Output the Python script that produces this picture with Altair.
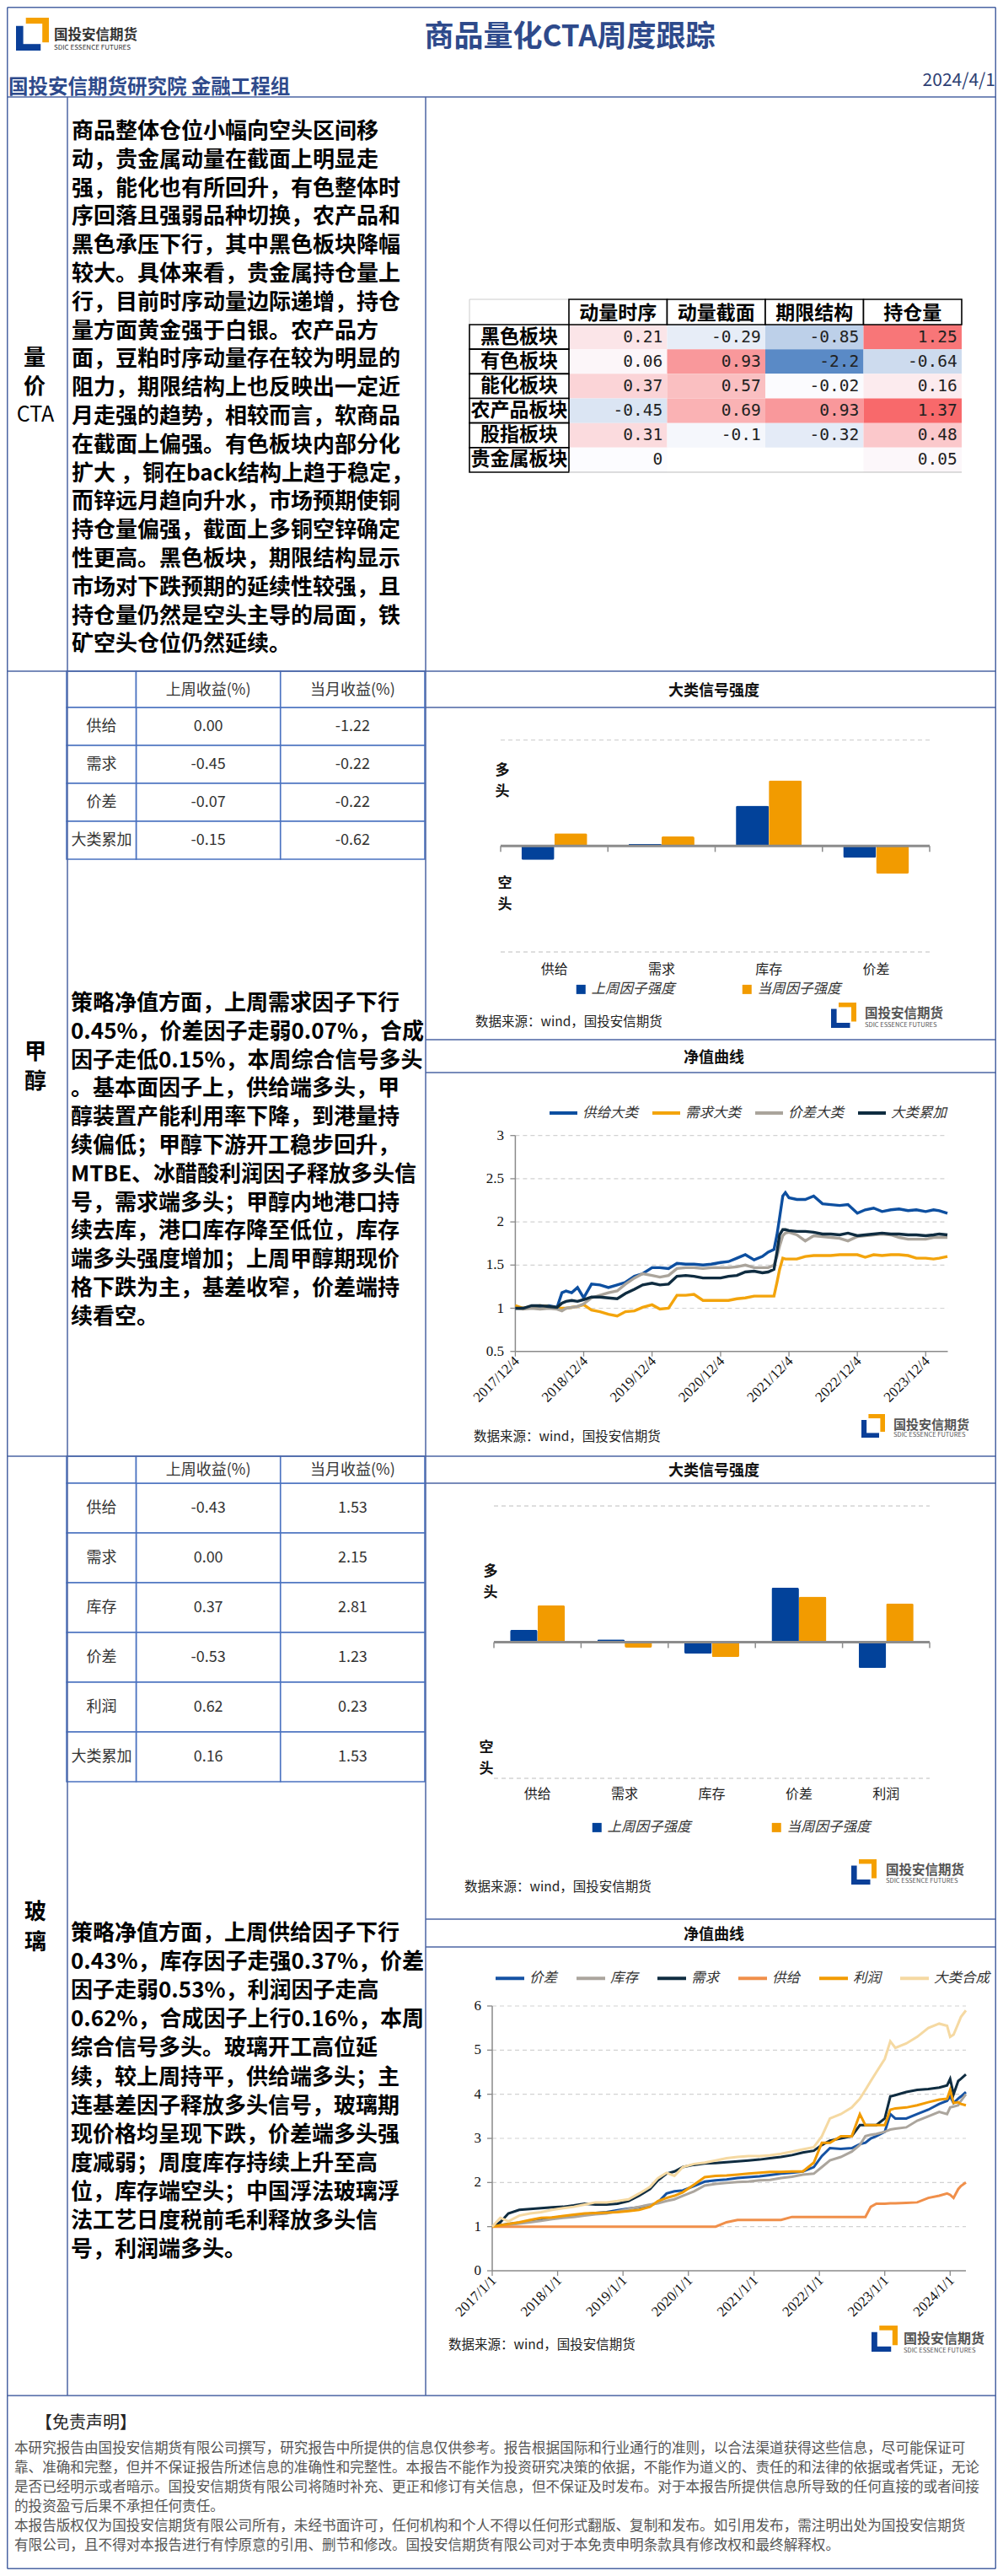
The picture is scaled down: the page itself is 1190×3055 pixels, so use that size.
import altair as alt
import pandas as pd

# ======================= DATA =======================
CTA_SECTORS = ["黑色板块", "有色板块", "能化板块", "农产品板块", "股指板块", "贵金属板块"]
CTA_FACTORS = ["动量时序", "动量截面", "期限结构", "持仓量"]
CTA_MOM_TS = [0.21, 0.06, 0.37, -0.45, 0.31, 0]
CTA_MOM_CS = [-0.29, 0.93, 0.57, 0.69, -0.1, None]
CTA_TERM = [-0.85, -2.2, -0.02, 0.93, -0.32, None]
CTA_OI = [1.25, -0.64, 0.16, 1.37, 0.48, 0.05]

RET_COLS = ["上周收益(%)", "当月收益(%)"]
METH_ROWS = ["供给", "需求", "价差", "大类累加"]
METH_WEEK = [0.00, -0.45, -0.07, -0.15]
METH_MONTH = [-1.22, -0.22, -0.22, -0.62]
GLASS_ROWS = ["供给", "需求", "库存", "价差", "利润", "大类累加"]
GLASS_WEEK = [-0.43, 0.00, 0.37, -0.53, 0.62, 0.16]
GLASS_MONTH = [1.53, 2.15, 2.81, 1.23, 0.23, 1.53]

SIGNAL_SERIES = ["上周因子强度", "当周因子强度"]
METH_SIG_CATS = ["供给", "需求", "库存", "价差"]
METH_SIG_LAST = [-0.13, 0.02, 0.38, -0.11]
METH_SIG_CURR = [0.12, 0.09, 0.62, -0.26]
GLASS_SIG_CATS = ["供给", "需求", "库存", "价差", "利润"]
GLASS_SIG_LAST = [0.09, 0.02, -0.085, 0.40, -0.19]
GLASS_SIG_CURR = [0.27, -0.04, -0.11, 0.335, 0.285]

METH_NAV_SERIES = ["供给大类", "需求大类", "价差大类", "大类累加"]
METH_DATES = [
    "2017/12/04", "2018/01/15", "2018/03/01", "2018/04/15", "2018/06/01", "2018/07/15", "2018/08/10", "2018/09/01", "2018/10/01", "2018/11/01",
    "2018/12/04", "2019/01/15", "2019/03/01", "2019/04/15", "2019/06/01", "2019/07/15", "2019/09/01", "2019/10/15", "2019/12/04", "2020/01/15",
    "2020/03/01", "2020/04/15", "2020/06/01", "2020/07/15", "2020/09/01", "2020/10/15", "2020/12/04", "2021/01/15", "2021/03/01", "2021/04/15",
    "2021/06/01", "2021/07/15", "2021/08/15", "2021/09/15", "2021/10/01", "2021/10/15", "2021/11/01", "2021/11/15", "2021/12/04", "2022/01/15",
    "2022/03/01", "2022/04/15", "2022/06/01", "2022/07/15", "2022/09/01", "2022/10/15", "2022/12/04", "2023/01/15", "2023/03/01", "2023/04/15",
    "2023/06/01", "2023/07/15", "2023/09/01", "2023/10/15", "2023/12/04", "2024/01/15", "2024/02/15", "2024/03/29"]
METH_SUPPLY = [1.0, 1.0, 1.01, 1.02, 1.03, 1.01, 1.18, 1.2, 1.18, 1.24,
               1.12, 1.28, 1.27, 1.24, 1.27, 1.3, 1.37, 1.4, 1.47, 1.47,
               1.46, 1.52, 1.51, 1.51, 1.5, 1.51, 1.53, 1.54, 1.58, 1.62,
               1.56, 1.6, 1.65, 1.68, 1.85, 2.05, 2.3, 2.34, 2.28, 2.26,
               2.26, 2.3, 2.21, 2.2, 2.19, 2.2, 2.1, 2.14, 2.16, 2.12,
               2.14, 2.15, 2.13, 2.14, 2.12, 2.14, 2.13, 2.1]
METH_DEMAND = [1.03, 1.0, 1.02, 1.03, 1.02, 1.0, 1.0, 1.0, 1.01, 1.02,
               1.04, 0.98, 0.96, 0.93, 0.91, 0.96, 0.97, 1.01, 1.04, 0.99,
               1.0, 1.15, 1.15, 1.16, 1.09, 1.09, 1.09, 1.09, 1.11, 1.12,
               1.14, 1.14, 1.14, 1.14, 1.3, 1.45, 1.58, 1.57, 1.57, 1.57,
               1.6, 1.61, 1.61, 1.61, 1.62, 1.62, 1.62, 1.59, 1.62, 1.61,
               1.62, 1.62, 1.61, 1.58, 1.58, 1.57, 1.58, 1.6]
METH_SPREAD = [1.0, 0.99, 1.0, 0.99, 1.0, 0.99, 0.97, 1.0, 1.01, 1.02,
               1.05, 1.12, 1.15, 1.18, 1.2, 1.28, 1.35, 1.4, 1.38, 1.36,
               1.38, 1.46, 1.47, 1.47, 1.46, 1.47, 1.47, 1.47, 1.48, 1.5,
               1.47, 1.47, 1.47, 1.5, 1.6, 1.72, 1.84, 1.87, 1.88, 1.85,
               1.78, 1.84, 1.83, 1.82, 1.81, 1.78, 1.83, 1.84, 1.85, 1.86,
               1.85, 1.82, 1.8, 1.8, 1.8, 1.82, 1.82, 1.82]
METH_TOTAL = [1.0, 1.0, 1.03, 1.03, 1.02, 1.01, 1.06, 1.08, 1.09, 1.08,
              1.1, 1.13, 1.13, 1.12, 1.11, 1.17, 1.22, 1.27, 1.29, 1.27,
              1.28, 1.37, 1.38, 1.37, 1.35, 1.35, 1.35, 1.37, 1.38, 1.42,
              1.43, 1.41, 1.42, 1.45, 1.65, 1.85, 1.91, 1.91, 1.9, 1.89,
              1.89, 1.88, 1.86, 1.86, 1.85, 1.87, 1.84, 1.85, 1.86, 1.87,
              1.86, 1.86, 1.85, 1.85, 1.84, 1.85, 1.86, 1.85]
METH_X_TICKS = ["2017/12/4", "2018/12/4", "2019/12/4", "2020/12/4", "2021/12/4", "2022/12/4", "2023/12/4"]
METH_Y_TICKS = [0.5, 1, 1.5, 2, 2.5, 3]

GLASS_NAV_SERIES = ["价差", "库存", "需求", "供给", "利润", "大类合成"]
GLASS_DATES = [
    "2017/01/01", "2017/02/15", "2017/04/01", "2017/06/01", "2017/08/01", "2017/10/01", "2017/12/01", "2018/02/01", "2018/04/01", "2018/06/01",
    "2018/08/01", "2018/10/01", "2018/12/01", "2019/02/01", "2019/04/01", "2019/06/01", "2019/07/15", "2019/09/01", "2019/10/15", "2019/12/01",
    "2020/02/01", "2020/04/01", "2020/06/01", "2020/08/01", "2020/10/01", "2020/12/01", "2021/02/01", "2021/04/01", "2021/06/01", "2021/08/01",
    "2021/10/01", "2021/12/01", "2022/01/15", "2022/03/01", "2022/05/01", "2022/07/01", "2022/08/15", "2022/09/15", "2022/10/15", "2022/11/15",
    "2023/01/01", "2023/02/01", "2023/03/01", "2023/05/01", "2023/07/01", "2023/09/01", "2023/11/01", "2023/12/15", "2024/01/01", "2024/01/20",
    "2024/02/15", "2024/03/01", "2024/03/29"]
GLASS_SPREAD = [1.0, 1.03, 1.06, 1.09, 1.13, 1.17, 1.2, 1.23, 1.25, 1.28,
                1.31, 1.33, 1.37, 1.41, 1.44, 1.48, 1.55, 1.75, 1.8, 1.82,
                1.92, 2.02, 2.05, 2.07, 2.1, 2.12, 2.14, 2.17, 2.2, 2.22,
                2.25, 2.35, 2.6, 2.78, 2.76, 2.78, 2.87, 2.9, 3.0, 3.05,
                3.15, 3.55, 3.45, 3.45, 3.55, 3.65, 3.78, 3.85, 3.95, 3.8,
                3.9, 3.95, 4.05]
GLASS_INV = [1.0, 1.02, 1.04, 1.07, 1.1, 1.13, 1.17, 1.2, 1.22, 1.25,
             1.28, 1.3, 1.35, 1.4, 1.45, 1.5, 1.53, 1.58, 1.62, 1.7,
             1.8, 1.93, 1.97, 1.99, 2.01, 2.02, 2.05, 2.06, 2.1, 2.13,
             2.18, 2.2, 2.35, 2.5, 2.58, 2.7, 2.85, 3.05, 3.08, 3.1,
             3.15, 3.2, 3.22, 3.25, 3.4, 3.5, 3.6, 3.55, 3.7, 3.72,
             3.75, 3.85, 4.0]
GLASS_DEMAND = [1.0, 1.1, 1.3, 1.38, 1.4, 1.42, 1.44, 1.45, 1.48, 1.52,
                1.5, 1.5, 1.52, 1.58, 1.7, 1.85, 2.05, 2.2, 2.25, 2.35,
                2.4, 2.43, 2.44, 2.46, 2.48, 2.5, 2.52, 2.55, 2.58, 2.62,
                2.68, 2.72, 2.85, 2.95, 3.0, 3.05, 3.3, 3.3, 3.3, 3.3,
                3.45, 3.95, 3.98, 4.05, 4.1, 4.12, 4.15, 4.2, 4.35, 4.0,
                4.3, 4.35, 4.45]
GLASS_SUPPLY = [1.0, 1.0, 1.0, 1.0, 1.0, 1.0, 1.0, 1.0, 1.0, 1.0,
                1.0, 1.0, 1.0, 1.0, 1.0, 1.0, 1.0, 1.0, 1.0, 1.0,
                1.0, 1.0, 1.0, 1.1, 1.15, 1.15, 1.15, 1.15, 1.15, 1.22,
                1.22, 1.22, 1.22, 1.22, 1.22, 1.22, 1.22, 1.22, 1.45, 1.52,
                1.52, 1.53, 1.53, 1.54, 1.55, 1.65, 1.7, 1.75, 1.72, 1.65,
                1.85, 1.92, 2.0]
GLASS_PROFIT = [1.0, 1.03, 1.06, 1.1, 1.15, 1.2, 1.21, 1.24, 1.27, 1.3,
                1.31, 1.32, 1.33, 1.35, 1.38, 1.45, 1.58, 1.65, 1.7, 1.78,
                1.95, 2.12, 2.15, 2.16, 2.18, 2.2, 2.22, 2.24, 2.24, 2.25,
                2.25, 2.45, 2.9, 2.9, 3.05, 3.05, 3.55, 3.3, 3.3, 3.3,
                3.3, 3.65, 3.68, 3.7, 3.75, 3.82, 3.88, 3.9, 4.1, 3.8,
                3.82, 3.78, 3.75]
GLASS_TOTAL = [1.0, 1.2, 1.12, 1.25, 1.3, 1.33, 1.38, 1.42, 1.45, 1.5,
               1.55, 1.55, 1.58, 1.62, 1.75, 1.9, 2.1, 2.22, 2.15, 2.35,
               2.42, 2.45, 2.5, 2.55, 2.58, 2.6, 2.6, 2.62, 2.65, 2.7,
               2.75, 2.8, 3.05, 3.45, 3.55, 3.7, 3.9, 4.1, 4.3, 4.5,
               4.8, 5.2, 5.05, 5.15, 5.3, 5.5, 5.6, 5.55, 5.3, 5.35,
               5.6, 5.75, 5.9]
GLASS_X_TICKS = ["2017/1/1", "2018/1/1", "2019/1/1", "2020/1/1", "2021/1/1", "2022/1/1", "2023/1/1", "2024/1/1"]
GLASS_Y_TICKS = [0, 1, 2, 3, 4, 5, 6]

TITLE = "商品量化CTA周度跟踪"
SUBTITLE = "国投安信期货研究院 金融工程组"
REPORT_DATE = "2024/4/1"
SOURCE = "数据来源：wind，国投安信期货"

CTA_TEXT = [
    "商品整体仓位小幅向空头区间移", "动，贵金属动量在截面上明显走", "强，能化也有所回升，有色整体时",
    "序回落且强弱品种切换，农产品和", "黑色承压下行，其中黑色板块降幅", "较大。具体来看，贵金属持仓量上",
    "行，目前时序动量边际递增，持仓", "量方面黄金强于白银。农产品方", "面，豆粕时序动量存在较为明显的",
    "阻力，期限结构上也反映出一定近", "月走强的趋势，相较而言，软商品", "在截面上偏强。有色板块内部分化",
    "扩大 ，铜在back结构上趋于稳定，", "而锌远月趋向升水，市场预期使铜", "持仓量偏强，截面上多铜空锌确定",
    "性更高。黑色板块，期限结构显示", "市场对下跌预期的延续性较强，且", "持仓量仍然是空头主导的局面，铁",
    "矿空头仓位仍然延续。"]
METH_TEXT = [
    "策略净值方面，上周需求因子下行", "0.45%，价差因子走弱0.07%，合成", "因子走低0.15%，本周综合信号多头",
    "。基本面因子上，供给端多头，甲", "醇装置产能利用率下降，到港量持", "续偏低；甲醇下游开工稳步回升，",
    "MTBE、冰醋酸利润因子释放多头信", "号，需求端多头；甲醇内地港口持", "续去库，港口库存降至低位，库存",
    "端多头强度增加；上周甲醇期现价", "格下跌为主，基差收窄，价差端持", "续看空。"]
GLASS_TEXT = [
    "策略净值方面，上周供给因子下行", "0.43%，库存因子走强0.37%，价差", "因子走弱0.53%，利润因子走高",
    "0.62%，合成因子上行0.16%，本周", "综合信号多头。玻璃开工高位延", "续，较上周持平，供给端多头；主",
    "连基差因子释放多头信号，玻璃期", "现价格均呈现下跌，价差端多头强", "度减弱；周度库存持续上升至高",
    "位，库存端空头；中国浮法玻璃浮", "法工艺日度税前毛利释放多头信", "号，利润端多头。"]
DISCLAIMER_TITLE = "【免责声明】"
DISCLAIMER = [
    "\u00a0\u00a0本研究报告由国投安信期货有限公司撰写，研究报告中所提供的信息仅供参考。报告根据国际和行业通行的准则，以合法渠道获得这些信息，尽可能保证可",
    "靠、准确和完整，但并不保证报告所述信息的准确性和完整性。本报告不能作为投资研究决策的依据，不能作为道义的、责任的和法律的依据或者凭证，无论",
    "是否已经明示或者暗示。国投安信期货有限公司将随时补充、更正和修订有关信息，但不保证及时发布。对于本报告所提供信息所导致的任何直接的或者间接",
    "的投资盈亏后果不承担任何责任。",
    "\u00a0\u00a0本报告版权仅为国投安信期货有限公司所有，未经书面许可，任何机构和个人不得以任何形式翻版、复制和发布。如引用发布，需注明出处为国投安信期货",
    "有限公司，且不得对本报告进行有悖原意的引用、删节和修改。国投安信期货有限公司对于本免责申明条款具有修改权和最终解释权。"]

# ======================= STYLE =======================
FONT = "Noto Sans CJK SC"
SERIF = "Liberation Serif"
MONO = "DejaVu Sans Mono"
FRAME = "#4b65a3"
TABLE = "#4a72c0"
NAVY = "#2e4a8b"
BAR_BLUE = "#02429a"
BAR_ORANGE = "#f29b00"
LOGO_BLUE = "#0a3f98"
LOGO_ORANGE = "#f5a000"
METH_COLORS = ["#0d4fa0", "#f3a40c", "#aaa49b", "#0f2c40"]
GLASS_COLORS = ["#1552a3", "#aba59d", "#0f2c40", "#f08f4a", "#f29b00", "#f5d9a2"]

W, H = 1174, 3039
L_, R_, T_, B_ = 0.75, 1173.25, 0.75, 3038.25


def C(v):
    return round(v - 8, 2)


def hrule(x1, x2, y, color=FRAME, w=1.5, dash=None):
    kw = {"color": color, "strokeWidth": w}
    if dash:
        kw["strokeDash"] = dash
    return alt.Chart().mark_rule(**kw).encode(x=alt.value(x1), x2=alt.value(x2), y=alt.value(y))


def vrule(x, y1, y2, color=FRAME, w=1.5):
    return alt.Chart().mark_rule(color=color, strokeWidth=w).encode(
        x=alt.value(x), y=alt.value(y1), y2=alt.value(y2))


def label(x, y, s, size, weight="normal", color="#000", align="left", font=FONT,
          style="normal", lh=None, baseline="middle"):
    kw = dict(font=font, fontSize=size, fontWeight=weight, color=color, align=align,
              baseline=baseline, fontStyle=style)
    if lh is not None:
        kw["lineHeight"] = lh
        kw["lineBreak"] = "\n"
    return alt.Chart().mark_text(**kw).encode(x=alt.value(x), y=alt.value(y), text=alt.value(s))


def block(x1, y1, x2, y2, fill, stroke=None, sw=0):
    kw = {"fill": fill}
    if stroke:
        kw.update(stroke=stroke, strokeWidth=sw)
    return alt.Chart().mark_rect(**kw).encode(
        x=alt.value(x1), x2=alt.value(x2), y=alt.value(y1), y2=alt.value(y2))


def logo(x0, y0, s, tx, ty, tsize, sub_y, sub_size, tcolor="#555"):
    return [
        block(C(x0 + 0.3 * s), C(y0), C(x0 + s), C(y0 + 0.18 * s), LOGO_ORANGE),
        block(C(x0 + 0.8 * s), C(y0), C(x0 + s), C(y0 + 0.75 * s), LOGO_ORANGE),
        block(C(x0), C(y0 + 0.25 * s), C(x0 + 0.22 * s), C(y0 + s), LOGO_BLUE),
        block(C(x0), C(y0 + 0.8 * s), C(x0 + 0.75 * s), C(y0 + s), LOGO_BLUE),
        label(C(tx), C(ty), "国投安信期货", tsize, "bold", tcolor),
        label(C(tx), C(sub_y), "SDIC ESSENCE FUTURES", sub_size, "normal", tcolor),
    ]


def para(x, yc, lines, size, lh, weight="bold", color="#000"):
    return label(C(x), C(yc) + 0.08 * size, "\n".join(lines), size, weight, color, lh=lh)


layers = []

# ======================= HEATMAP (量价CTA) =======================
heat_rows = []
for i, s in enumerate(CTA_SECTORS):
    for f, arr in zip(CTA_FACTORS, [CTA_MOM_TS, CTA_MOM_CS, CTA_TERM, CTA_OI]):
        v = arr[i]
        if v is None:
            continue
        heat_rows.append({"sector": s, "factor": f, "v": v, "label": f"{v:g}"})
heat_df = pd.DataFrame(heat_rows)
sec_df = pd.DataFrame({"sector": CTA_SECTORS})
fac_df = pd.DataFrame({"factor": CTA_FACTORS})
hx = alt.Scale(domain=CTA_FACTORS, range=[C(675), C(1141)], paddingInner=0, paddingOuter=0)
hy = alt.Scale(domain=CTA_SECTORS, range=[C(385), C(560)], paddingInner=0, paddingOuter=0)
HX = alt.X("factor:N", scale=hx, axis=None)
HY = alt.Y("sector:N", scale=hy, axis=None)
hcolor = alt.Scale(domain=[-2.2, 0, 1.37], range=["#5a8ac6", "#fcfcff", "#f8696b"], interpolate="rgb")
heat = alt.layer(
    alt.Chart(heat_df).mark_rect().encode(x=HX, y=HY, color=alt.Color("v:Q", scale=hcolor, legend=None)),
    alt.Chart(heat_df).mark_text(align="right", dx=53, font=MONO, fontSize=19.5, color="#222",
                                 baseline="middle").encode(x=HX, y=HY, text="label:N"),
    alt.Chart(sec_df).mark_rect(fill="white", stroke="#000", strokeWidth=1.6).encode(
        y=HY, x=alt.value(C(557)), x2=alt.value(C(675))),
    alt.Chart(sec_df).mark_text(font=FONT, fontSize=23, fontWeight="bold", color="#000",
                                baseline="middle").encode(y=HY, x=alt.value(C(616)), text="sector:N"),
    alt.Chart(fac_df).mark_rect(fill="white", stroke="#000", strokeWidth=1.6).encode(
        x=HX, y=alt.value(C(355)), y2=alt.value(C(385))),
    alt.Chart(fac_df).mark_text(font=FONT, fontSize=23, fontWeight="bold", color="#000",
                                baseline="middle").encode(x=HX, y=alt.value(C(372)), text="factor:N"),
)
layers.append(block(C(557), C(355), C(675), C(385), "white", "#cccccc", 1))
layers.append(heat)
layers.append(hrule(C(675), C(1141), C(560), "#bbbbbb", 1))


# ======================= RETURN TABLES =======================
def ret_table(rows, week, month, top, head_bot, bottom):
    df = pd.DataFrame(
        [{"row": r, "col": RET_COLS[0], "label": f"{w:.2f}"} for r, w in zip(rows, week)] +
        [{"row": r, "col": RET_COLS[1], "label": f"{m:.2f}"} for r, m in zip(rows, month)])
    rdf = pd.DataFrame({"row": rows})
    cdf = pd.DataFrame({"col": RET_COLS})
    tx = alt.Scale(domain=RET_COLS, range=[C(161.5), C(504)], paddingInner=0, paddingOuter=0)
    ty = alt.Scale(domain=rows, range=[C(head_bot), C(bottom)], paddingInner=0, paddingOuter=0)
    TX = alt.X("col:N", scale=tx, axis=None)
    TY = alt.Y("row:N", scale=ty, axis=None)
    cell = dict(fill="white", stroke=TABLE, strokeWidth=1.6)
    tstyle = dict(font=FONT, fontSize=18, color="#333", baseline="middle")
    return alt.layer(
        alt.Chart(df).mark_rect(**cell).encode(x=TX, y=TY),
        alt.Chart(rdf).mark_rect(**cell).encode(y=TY, x=alt.value(C(79)), x2=alt.value(C(161.5))),
        alt.Chart(cdf).mark_rect(**cell).encode(x=TX, y=alt.value(C(top)), y2=alt.value(C(head_bot))),
        alt.Chart(df).mark_text(**tstyle).encode(x=TX, y=TY, text="label:N"),
        alt.Chart(rdf).mark_text(**tstyle).encode(y=TY, x=alt.value(C(120.5)), text="row:N"),
        alt.Chart(cdf).mark_text(**tstyle).encode(x=TX, y=alt.value(C((top + head_bot) / 2) + 1), text="col:N"),
    )


layers.append(block(C(79), C(796), C(161.5), C(839), "white", TABLE, 1.6))
layers.append(ret_table(METH_ROWS, METH_WEEK, METH_MONTH, 796, 839, 1019))
layers.append(block(C(79), C(1727), C(161.5), C(1759), "white", TABLE, 1.6))
layers.append(ret_table(GLASS_ROWS, GLASS_WEEK, GLASS_MONTH, 1727, 1759, 2113))


# ======================= SIGNAL BAR CHARTS =======================
def signal_chart(cats, last, curr, x0, x1, ytop, ybot, pad_outer, cat_y, leg_x, leg_y, col_pad):
    n = len(cats)
    df = pd.DataFrame({"cat": cats + cats, "series": [SIGNAL_SERIES[0]] * n + [SIGNAL_SERIES[1]] * n,
                       "v": last + curr})
    cdf = pd.DataFrame({"cat": cats})
    xs = alt.Scale(domain=cats, range=[C(x0), C(x1)], paddingInner=0, paddingOuter=0)
    ys = alt.Scale(domain=[-1, 1], range=[C(ybot), C(ytop)], nice=False)
    X = alt.X("cat:N", scale=xs, axis=None)
    Y = alt.Y("v:Q", scale=ys, axis=None)
    zero_px = (C(ybot) + C(ytop)) / 2
    grid = dict(color="#d4d4d4", strokeWidth=1.3, strokeDash=[5, 4])
    return alt.layer(
        alt.Chart().mark_rule(**grid).encode(y=alt.YDatum(1, axis=None, scale=ys), x=alt.value(C(x0)), x2=alt.value(C(x1))),
        alt.Chart().mark_rule(**grid).encode(y=alt.YDatum(-1, axis=None, scale=ys), x=alt.value(C(x0)), x2=alt.value(C(x1))),
        alt.Chart(df).mark_bar(cornerRadius=2).encode(
            x=X,
            xOffset=alt.XOffset("series:N", scale=alt.Scale(domain=SIGNAL_SERIES, paddingOuter=pad_outer, paddingInner=0)),
            y=Y,
            color=alt.Color("series:N", scale=alt.Scale(domain=SIGNAL_SERIES, range=[BAR_BLUE, BAR_ORANGE]),
                            legend=alt.Legend(orient="none", legendX=C(leg_x), legendY=C(leg_y) - 9,
                                              direction="horizontal", title=None, symbolType="square",
                                              symbolSize=121, symbolStrokeWidth=0, labelFont=FONT,
                                              labelFontSize=16.5, labelFontStyle="italic", labelColor="#333",
                                              columnPadding=col_pad, labelOffset=4, padding=0))),
        alt.Chart().mark_rule(color="#8c8c8c", strokeWidth=3).encode(
            y=alt.YDatum(0, axis=None, scale=ys), x=alt.value(C(x0)), x2=alt.value(C(x1))),
        alt.Chart(cdf).mark_rule(color="#8c8c8c", strokeWidth=1.5).encode(
            x=alt.X("cat:N", scale=xs, axis=None, bandPosition=0),
            y=alt.value(zero_px), y2=alt.value(zero_px + 7)),
        alt.Chart().mark_rule(color="#8c8c8c", strokeWidth=1.5).encode(
            x=alt.value(C(x1)), y=alt.value(zero_px), y2=alt.value(zero_px + 7)),
        alt.Chart(cdf).mark_text(font=FONT, fontSize=16, color="#222", baseline="middle").encode(
            x=X, y=alt.value(C(cat_y)), text="cat:N"),
    )


layers.append(signal_chart(METH_SIG_CATS, METH_SIG_LAST, METH_SIG_CURR, 594, 1103, 877.7, 1129, 0.63,
                           1150, 681, 1174, 77))
layers.append(signal_chart(GLASS_SIG_CATS, GLASS_SIG_LAST, GLASS_SIG_CURR, 586, 1103, 1786, 2109, 0.59,
                           2128, 700, 2168, 93))


# ======================= NAV LINE CHARTS =======================
def nav_chart(dates, names, values, colors, dom, xr, ydom, yr, yticks, xticks, ylab_right, leg_x, leg_y,
              col_pad, sym_len, sw):
    rows = []
    for nm, vals in zip(names, values):
        for d, v in zip(dates, vals):
            rows.append({"date": d, "series": nm, "v": v})
    df = pd.DataFrame(rows)
    ydf = pd.DataFrame({"v": yticks, "label": [f"{t:g}" for t in yticks]})
    gdf = pd.DataFrame({"v": yticks[1:]})
    xdf = pd.DataFrame({"d": xticks, "label": xticks})
    xs = alt.Scale(domain=dom, range=[C(xr[0]), C(xr[1])], nice=False)
    ys = alt.Scale(domain=ydom, range=[C(yr[0]), C(yr[1])], nice=False, zero=False)
    X = alt.X("date:T", scale=xs, axis=None)
    Y = alt.Y("v:Q", scale=ys, axis=None)
    XT = alt.X("d:T", scale=xs, axis=None)
    axc = "#8a8a8a"
    return alt.layer(
        alt.Chart(gdf).mark_rule(color="#d2d2d2", strokeWidth=1.2, strokeDash=[5, 4]).encode(
            y=Y, x=alt.value(C(xr[0])), x2=alt.value(C(xr[1]))),
        alt.Chart().mark_rule(color=axc, strokeWidth=1.5).encode(
            x=alt.value(C(xr[0])), y=alt.value(C(yr[1])), y2=alt.value(C(yr[0]))),
        alt.Chart().mark_rule(color=axc, strokeWidth=1.5).encode(
            y=alt.value(C(yr[0])), x=alt.value(C(xr[0])), x2=alt.value(C(xr[1]))),
        alt.Chart(ydf).mark_rule(color=axc, strokeWidth=1.3).encode(
            y=Y, x=alt.value(C(xr[0] - 6)), x2=alt.value(C(xr[0]))),
        alt.Chart(ydf).mark_text(font=SERIF, fontSize=17, color="#111", align="right", baseline="middle").encode(
            y=Y, x=alt.value(C(ylab_right)), text="label:N"),
        alt.Chart(xdf).mark_rule(color=axc, strokeWidth=1.3).encode(
            x=XT, y=alt.value(C(yr[0])), y2=alt.value(C(yr[0] + 6))),
        alt.Chart(xdf).mark_text(font=SERIF, fontSize=17, color="#111", align="right", baseline="middle",
                                 angle=315, dx=3).encode(x=XT, y=alt.value(C(yr[0] + 11)), text="label:N"),
        alt.Chart(df).mark_line(strokeWidth=sw).encode(
            x=X, y=Y,
            color=alt.Color("series:N", sort=names, scale=alt.Scale(domain=names, range=colors),
                            legend=alt.Legend(orient="none", legendX=C(leg_x), legendY=C(leg_y) - sym_len / 2,
                                              direction="horizontal", title=None, symbolType="stroke",
                                              symbolSize=sym_len * sym_len, symbolStrokeWidth=4,
                                              labelFont=FONT, labelFontSize=16.5, labelFontStyle="italic",
                                              labelColor="#333", columnPadding=col_pad, labelOffset=4,
                                              padding=0))),
    )


layers.append(nav_chart(
    METH_DATES, METH_NAV_SERIES, [METH_SUPPLY, METH_DEMAND, METH_SPREAD, METH_TOTAL], METH_COLORS,
    [alt.DateTime(year=2017, month=12, date=4), alt.DateTime(year=2024, month=3, date=31)],
    (611.4, 1124.5), [0.5, 3], (1602.7, 1346.7), METH_Y_TICKS, METH_X_TICKS, 598, 650, 1318, 9, 33, 3.4))
layers.append(nav_chart(
    GLASS_DATES, GLASS_NAV_SERIES, [GLASS_SPREAD, GLASS_INV, GLASS_DEMAND, GLASS_SUPPLY, GLASS_PROFIT, GLASS_TOTAL],
    GLASS_COLORS,
    [alt.DateTime(year=2017, month=1, date=1), alt.DateTime(year=2024, month=3, date=29)],
    (584, 1146), [0, 6], (2693, 2379), GLASS_Y_TICKS, GLASS_X_TICKS, 571, 586, 2344, 15, 34, 3.0))

# ======================= TEXT & HEADER =======================
layers += logo(19, 21, 39, 64, 41.5, 16.5, 57, 8, "#333")
layers.append(label(C(676), C(41) + 2.8, TITLE, 35, "bold", NAVY, align="center"))
layers.append(label(C(10), C(102) + 1.8, SUBTITLE, 23.5, "bold", NAVY))
layers.append(label(C(1181), C(94) + 1.6, REPORT_DATE, 21, "normal", "#2d3e73", align="right"))

layers.append(para(85, 154, CTA_TEXT, 26, 33.8))
layers.append(label(C(41), C(423) + 2, "量\n价", 26, "bold", "#000", align="center", lh=34))
layers.append(label(C(42), C(490) + 2, "CTA", 25, "normal", "#000", align="center"))

layers.append(para(84, 1188, METH_TEXT, 26, 33.8))
layers.append(label(C(42), C(1246) + 2, "甲\n醇", 26, "bold", "#000", align="center", lh=35))

layers.append(para(84, 2291, GLASS_TEXT, 26, 34.1))
layers.append(label(C(42), C(2266) + 2, "玻\n璃", 26, "bold", "#000", align="center", lh=36))

# panel titles
for yc, t in [(818, "大类信号强度"), (1253, "净值曲线"), (1743, "大类信号强度"), (2293, "净值曲线")]:
    layers.append(label(C(847), C(yc) + 1.5, t, 18, "bold", "#111", align="center"))

# long/short labels
layers.append(label(C(596), C(913) + 1.4, "多\n头", 17, "bold", "#111", align="center", lh=25))
layers.append(label(C(599), C(1047) + 1.4, "空\n头", 17, "bold", "#111", align="center", lh=25))
layers.append(label(C(582), C(1863) + 1.4, "多\n头", 17, "bold", "#111", align="center", lh=25))
layers.append(label(C(577), C(2072) + 1.4, "空\n头", 17, "bold", "#111", align="center", lh=25))

# sources
for x, y in [(564, 1211), (562, 1703), (551, 2237), (532, 2780)]:
    layers.append(label(C(x), C(y) + 1.2, SOURCE, 15.5, "normal", "#222"))

# chart logos
layers += logo(986, 1189, 30, 1026, 1202, 15.5, 1216, 7.5)
layers += logo(1022, 1677, 28, 1060, 1690, 15, 1702, 7.5)
layers += logo(1010, 2205, 30, 1051, 2218, 15.5, 2231, 7.5)
layers += logo(1034, 2758, 31, 1072, 2774, 16, 2788, 7.5)

# disclaimer
layers.append(label(C(42), C(2872) + 1.6, DISCLAIMER_TITLE, 20, "normal", "#222"))
layers.append(para(17, 2903, DISCLAIMER, 16.6, 23, weight="normal", color="#555"))

# ======================= FRAME =======================
for y in [T_, C(115), C(796), C(1727), C(2841), B_]:
    layers.append(hrule(L_, R_, y))
layers.append(vrule(L_, T_, B_))
layers.append(vrule(R_, T_, B_))
layers.append(vrule(C(80), C(115), C(2841)))
layers.append(vrule(C(505), C(115), C(2841)))
for y in [839, 1233, 1272, 1759, 2276, 2309]:
    layers.append(hrule(C(505), R_, C(y)))

chart = alt.layer(*layers).properties(
    width=W, height=H, padding=0, background="white",
    autosize=alt.AutoSizeParams(type="none"),
).resolve_scale(
    x="independent", y="independent", color="independent", xOffset="independent"
).resolve_legend(color="independent").configure_view(stroke=None)

chart.save("out.html", embed_options={"renderer": "svg", "actions": False})
